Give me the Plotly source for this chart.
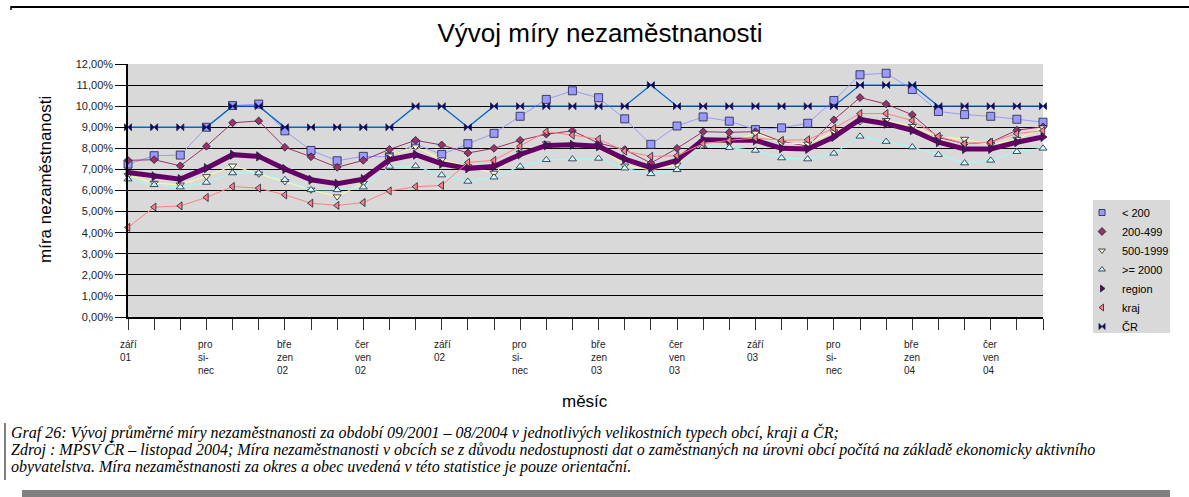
import plotly.graph_objects as go

# === DATA ===
mesice = ["09/01", "10/01", "11/01", "12/01", "01/02", "02/02", "03/02", "04/02", "05/02", "06/02", "07/02", "08/02",
          "09/02", "10/02", "11/02", "12/02", "01/03", "02/03", "03/03", "04/03", "05/03", "06/03", "07/03", "08/03",
          "09/03", "10/03", "11/03", "12/03", "01/04", "02/04", "03/04", "04/04", "05/04", "06/04", "07/04", "08/04"]

pod_200 = [7.25, 7.65, 7.68, 9.0, 10.03, 10.1, 8.83, 7.9, 7.41, 7.62, 7.6, 8.2,
           7.71, 8.22, 8.71, 9.52, 10.32, 10.73, 10.4, 9.4, 8.19, 9.06, 9.49, 9.29,
           8.89, 8.97, 9.19, 10.27, 11.49, 11.56, 10.79, 9.75, 9.6, 9.52, 9.38, 9.24]
o_200_499 = [7.43, 7.46, 7.17, 8.1, 9.21, 9.3, 8.05, 7.6, 7.1, 7.43, 7.95, 8.38,
             8.16, 7.78, 8.0, 8.38, 8.67, 8.83, 8.25, 7.94, 7.3, 8.0, 8.79, 8.76,
             8.79, 8.33, 8.1, 9.35, 10.41, 10.1, 9.59, 8.52, 8.22, 8.29, 8.86, 9.02]
o_500_1999 = [6.72, 6.35, 6.27, 6.67, 7.17, 6.79, 6.43, 6.03, 5.71, 6.35, 7.65, 8.08,
              7.46, 7.14, 6.83, 7.78, 8.22, 8.16, 8.1, 7.17, 6.98, 7.22, 8.33, 8.25,
              8.73, 8.25, 8.21, 8.79, 9.27, 9.33, 9.05, 8.54, 8.44, 8.16, 8.44, 8.98]
nad_2000 = [6.54, 6.27, 6.16, 6.38, 6.83, 6.83, 6.51, 6.03, 6.03, 6.16, 7.14, 7.16,
            6.73, 6.43, 6.63, 7.14, 7.46, 7.49, 7.52, 7.06, 6.79, 6.98, 8.1, 8.03,
            7.9, 7.54, 7.49, 7.76, 8.57, 8.32, 8.06, 7.7, 7.3, 7.43, 7.84, 8.0]
region = [6.86, 6.67, 6.54, 7.06, 7.7, 7.62, 7.02, 6.51, 6.32, 6.54, 7.46, 7.7,
          7.27, 7.05, 7.14, 7.71, 8.14, 8.17, 8.1, 7.49, 7.08, 7.43, 8.41, 8.38,
          8.38, 8.0, 7.97, 8.54, 9.37, 9.17, 8.86, 8.29, 7.97, 7.97, 8.29, 8.54]
kraj = [4.25, 5.21, 5.27, 5.67, 6.19, 6.11, 5.79, 5.4, 5.29, 5.43, 5.98, 6.18,
        6.24, 7.33, 7.43, 8.1, 8.79, 8.63, 8.44, 7.87, 7.62, 7.65, 8.22, 8.38,
        8.49, 8.38, 8.41, 8.95, 9.65, 9.65, 9.32, 8.57, 8.22, 8.29, 8.7, 8.84]
cr = [9, 9, 9, 9, 10, 10, 9, 9, 9, 9, 9, 10,
      10, 9, 10, 10, 10, 10, 10, 10, 11, 10, 10, 10,
      10, 10, 10, 10, 11, 11, 11, 10, 10, 10, 10, 10]

popisky = ["září<br>01", "pro<br>si-<br>nec", "bře<br>zen<br>02", "čer<br>ven<br>02",
           "září<br>02", "pro<br>si-<br>nec", "bře<br>zen<br>03", "čer<br>ven<br>03",
           "září<br>03", "pro<br>si-<br>nec", "bře<br>zen<br>04", "čer<br>ven<br>04"]
popisky_mesice = ["09/01", "12/01", "03/02", "06/02", "09/02", "12/02",
                  "03/03", "06/03", "09/03", "12/03", "03/04", "06/04"]

radky_popisu = [
    "Graf 26: Vývoj průměrné míry nezaměstnanosti za období 09/2001 – 08/2004 v jednotlivých velikostních typech obcí, kraji a ČR;",
    "Zdroj : MPSV ČR – listopad 2004; Míra nezaměstnanosti v obcích se z důvodu nedostupnosti dat o zaměstnaných na úrovni obcí počítá na základě ekonomicky aktivního",
    "obyvatelstva. Míra nezaměstnanosti za okres a obec uvedená v této statistice je pouze orientační.",
]

# === STYL ===
W, H = 1189, 497
L, R, T, B = 128, 146, 64, 180
PW, PH = W - L - R, H - T - B

def px(x):
    return (x - L) / PW

def py(y):
    return (H - B - y) / PH

# name, values, line color, line width, symbol, fill, size
serie = [
    ("< 200", pod_200, "#9999ff", 1, "square", "#9999ff", 8),
    ("200-499", o_200_499, "#993366", 1, "diamond", "#993366", 6),
    ("500-1999", o_500_1999, "#ffff99", 1, "triangle-down", "#ffffcc", 7),
    (">= 2000", nad_2000, "#99ffff", 1, "triangle-up", "#ccffff", 7),
    ("region", region, "#660066", 5, "triangle-right", "#660066", 8),
    ("kraj", kraj, "#ff8080", 1, "triangle-left", "#ff8080", 7),
    ("ČR", cr, "#0066cc", 1.3, "bowtie", "#000080", 7),
]

fig = go.Figure()

for name, vals, lc, lw, sym, fc, sz in serie:
    fig.add_trace(go.Scatter(
        x=mesice, y=vals, mode="lines+markers", name=name, showlegend=False,
        line=dict(color=lc, width=lw), cliponaxis=False,
        marker=dict(symbol=sym, color=fc, size=sz, line=dict(color="#202040", width=0.8)),
    ))

# legenda jen se znackami
for name, vals, lc, lw, sym, fc, sz in serie:
    fig.add_trace(go.Scatter(
        x=[None], y=[None], mode="markers", name=name,
        marker=dict(symbol=sym, color=fc, size=6, line=dict(color="#202040", width=0.8)),
    ))

anot = []
for m, t in zip(popisky_mesice, popisky):
    anot.append(dict(x=m, xref="x", y=py(337), yref="paper", text=t, showarrow=False,
                     xanchor="left", yanchor="top", align="left", xshift=-10,
                     font=dict(size=10, color="#222222")))

anot.append(dict(x=px(585), y=py(401), xref="paper", yref="paper", text="měsíc", showarrow=False,
                 xanchor="center", yanchor="middle", font=dict(size=17, color="black")))
anot.append(dict(x=px(45), y=py(180), xref="paper", yref="paper", text="míra nezaměstnanosti",
                 showarrow=False, textangle=-90, xanchor="center", yanchor="middle",
                 font=dict(size=17, color="black")))

for i, radek in enumerate(radky_popisu):
    anot.append(dict(x=px(9), y=py(432 + 17.5 * i), xref="paper", yref="paper", text=radek,
                     showarrow=False, xanchor="left", yanchor="middle", align="left",
                     font=dict(family="Liberation Serif", size=16, color="black", style="italic")))

fig.update_layout(
    width=W, height=H,
    margin=dict(l=L, r=R, t=T, b=B),
    paper_bgcolor="white",
    plot_bgcolor="#d9d9d9",
    font=dict(family="Liberation Sans, Arial", size=11, color="#222222"),
    separators=", ",
    title=dict(text="Vývoj míry nezaměstnanosti", x=600 / W, xanchor="center",
               y=1 - 33 / H, yanchor="middle", font=dict(size=26, color="black")),
    xaxis=dict(type="category", range=[0, len(mesice) - 1], showticklabels=False,
               ticks="outside", ticklen=11, tickcolor="#333333", showgrid=False,
               showline=True, linecolor="black", linewidth=2, zeroline=False),
    yaxis=dict(range=[0, 12], dtick=1, tickformat=".2f", ticksuffix="%",
               ticks="outside", ticklen=11, tickcolor="black",
               showgrid=True, gridcolor="black", gridwidth=1,
               showline=True, linecolor="black", linewidth=1.5, zeroline=False,
               tickfont=dict(size=11, color="#222222")),
    legend=dict(x=px(1082), y=py(198), xanchor="left", yanchor="top",
                bgcolor="rgba(0,0,0,0)", font=dict(size=11, color="black"),
                itemwidth=30, tracegroupgap=0),
    annotations=anot,
    shapes=[
        dict(type="rect", xref="paper", yref="paper", x0=px(1093), x1=px(1170), y0=py(200), y1=py(333),
             fillcolor="#d9d9d9", line=dict(width=0), layer="below"),
        dict(type="line", xref="paper", yref="paper", x0=px(11), x1=px(1189), y0=py(7), y1=py(7),
             line=dict(color="black", width=2)),
        dict(type="line", xref="paper", yref="paper", x0=px(11), x1=px(11), y0=py(6), y1=py(10),
             line=dict(color="black", width=1.5)),
        dict(type="line", xref="paper", yref="paper", x0=px(5), x1=px(5), y0=py(423), y1=py(480),
             line=dict(color="black", width=1)),
        dict(type="rect", xref="paper", yref="paper", x0=px(22), x1=px(1170), y0=py(490), y1=py(497),
             fillcolor="#808080", line=dict(width=0)),
    ],
)

# stranka bez okraju tela, aby graf sedel od leveho horniho rohu
fig.write_html("out.html", config={"displayModeBar": False},
               post_script="document.body.style.margin='0';")
